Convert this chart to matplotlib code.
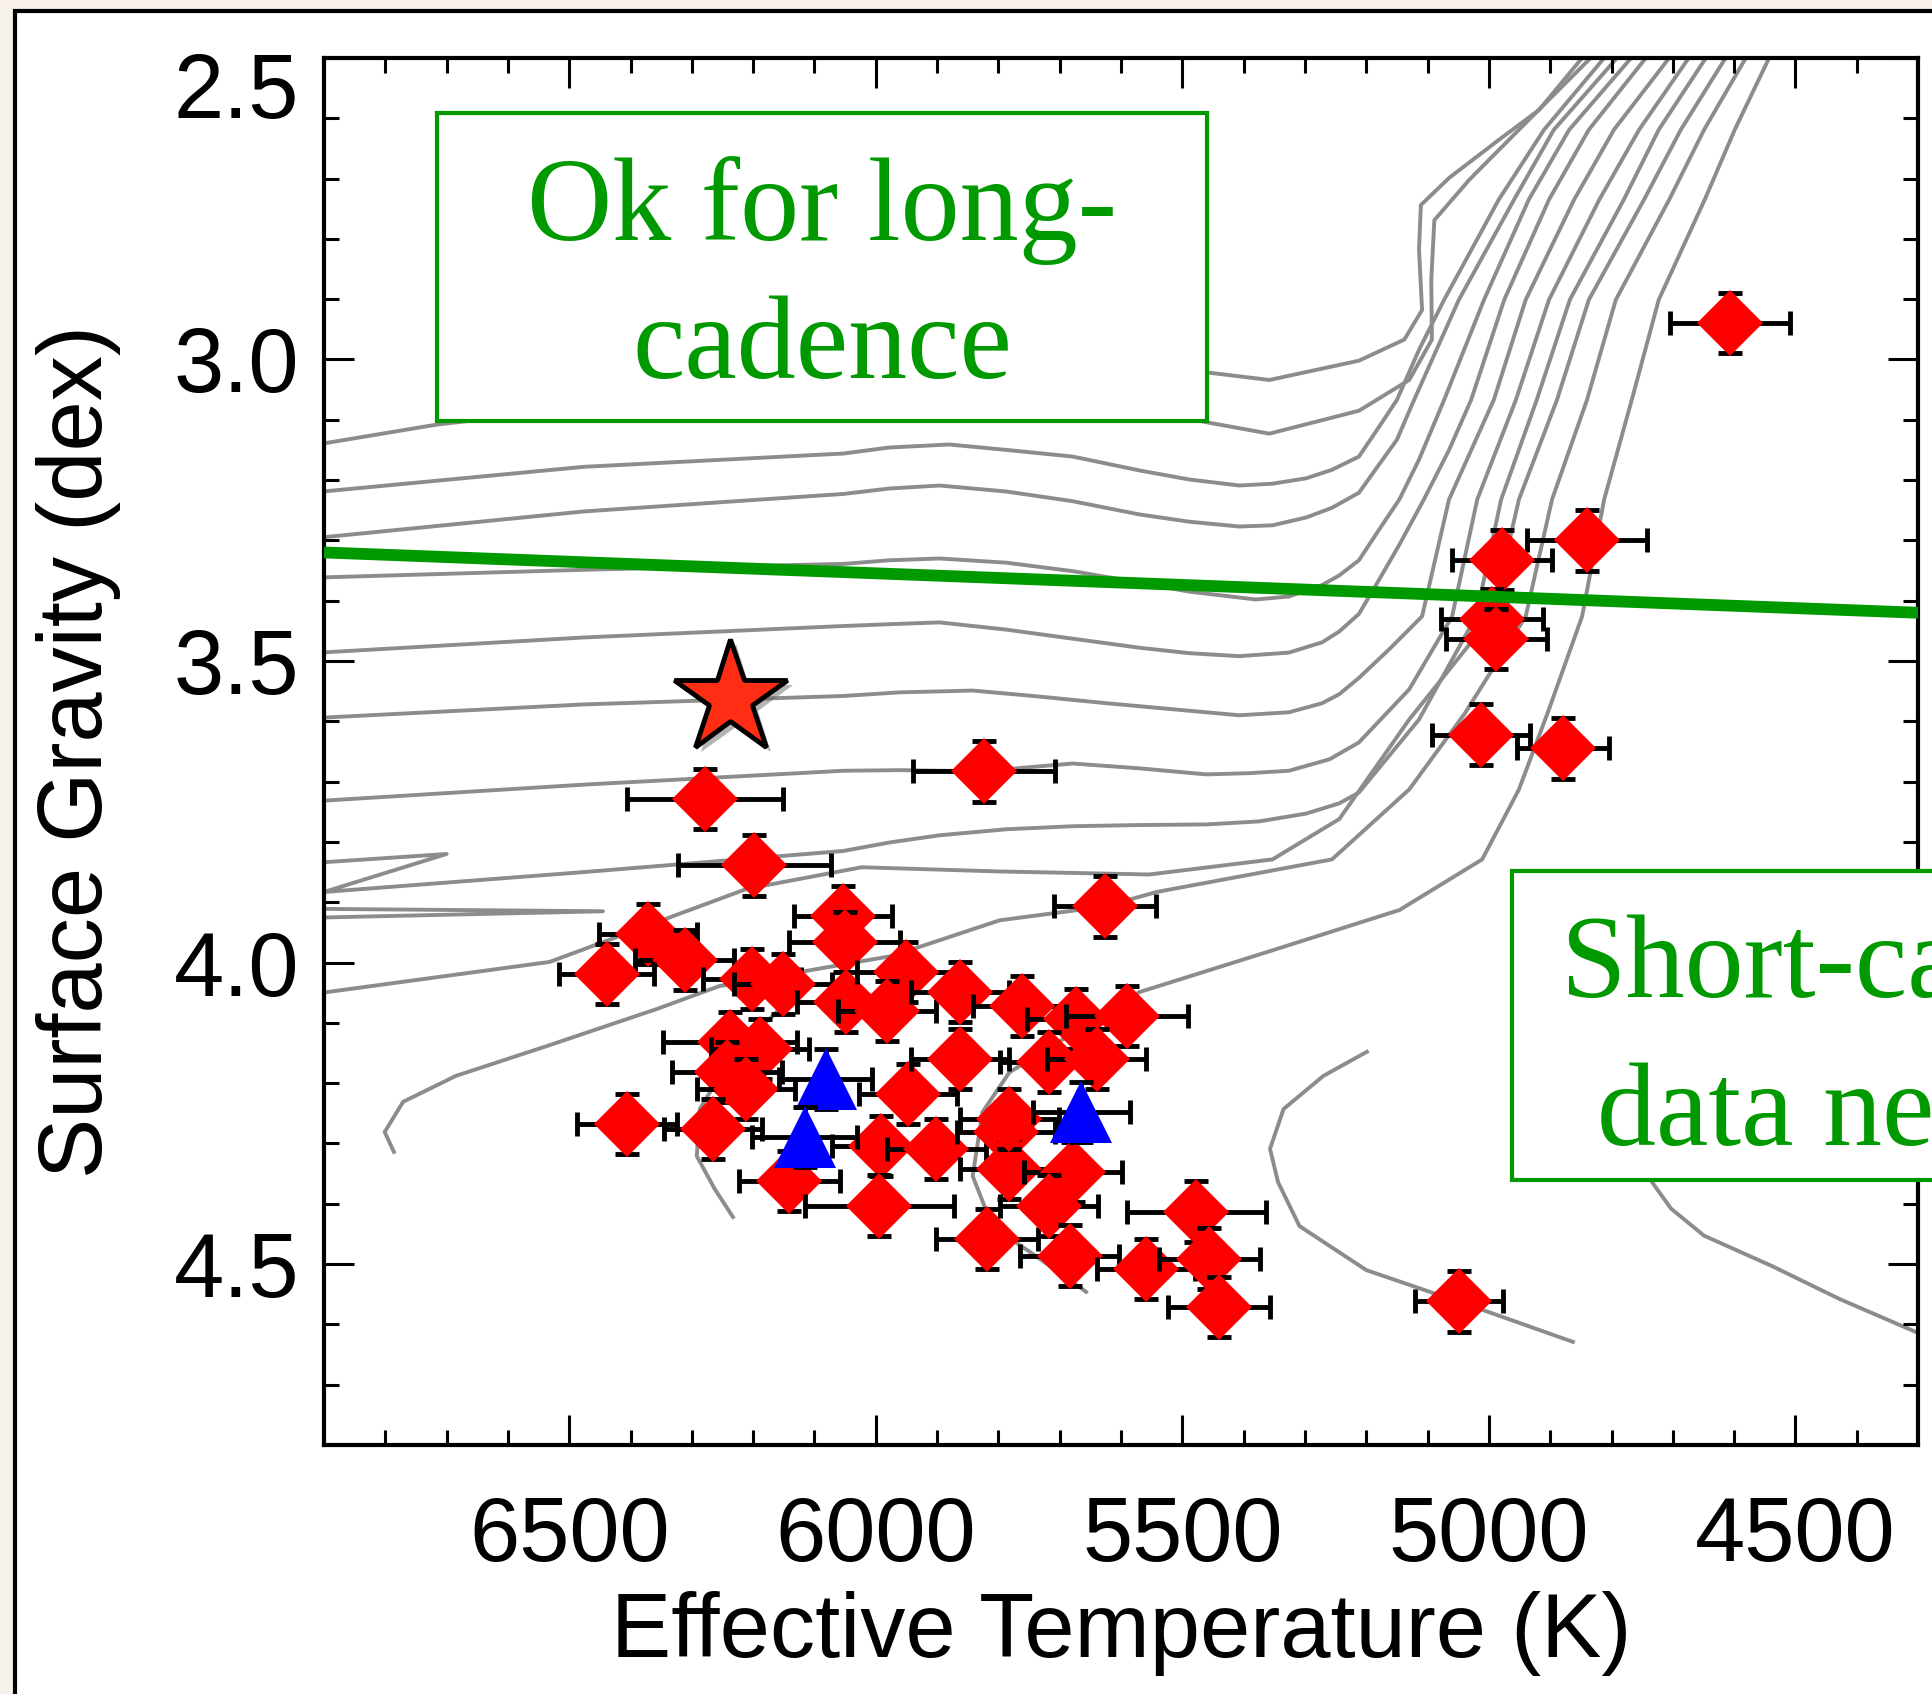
import matplotlib
matplotlib.use("Agg")
import matplotlib.pyplot as plt
import matplotlib.patheffects as pe
import matplotlib.transforms as mtransforms
from matplotlib.patches import Rectangle
import numpy as np

# ---- measured stars (red diamonds): Teff (K), error (K), log g (dex)
teff = [4607, 4840, 4979, 4995, 4988, 5013, 4879, 6279, 5823, 6198,
        5626, 6054, 6051, 6372, 6312, 6439, 6202, 6152, 6048, 5950,
        5981, 5863, 5761, 5673, 5590, 6238, 6189, 6243, 6211, 6266,
        6406, 5948, 5863, 5717, 5640, 5991, 5901, 5787, 5782, 5679,
        6141, 5994, 5819, 5717, 5684, 5559, 5477, 5456, 5440, 5049, 5782]
teff_err = [98, 98, 82, 83, 82, 80, 75, 127, 116, 125,
            83, 80, 91, 80, 80, 77, 80, 80, 80, 80,
            80, 80, 80, 80, 100, 109, 80, 90, 80, 80,
            81, 80, 80, 80, 80, 80, 80, 80, 80, 80,
            82, 122, 83, 80, 80, 80, 114, 82, 83, 72, 80]
logg = [2.939, 3.300, 3.332, 3.431, 3.464, 3.622, 3.645, 3.729, 3.683, 3.839,
        3.907, 3.923, 3.966, 3.953, 3.996, 4.019, 4.027, 4.036, 4.066, 4.016,
        4.080, 4.049, 4.072, 4.094, 4.089, 4.132, 4.143, 4.181, 4.210, 4.276,
        4.268, 4.218, 4.160, 4.165, 4.160, 4.304, 4.309, 4.281, 4.342, 4.347,
        4.362, 4.403, 4.458, 4.403, 4.486, 4.508, 4.413, 4.491, 4.571, 4.562, 4.259]
logg_err = 0.05

# blue triangles
tri_teff = [6082, 6116, 5665]
tri_teff_err = [76, 86, 79]
tri_logg = [4.193, 4.289, 4.248]

# highlighted target (star symbol)
star_teff = 6237
star_logg = 3.562

# green long/short cadence boundary
cut_teff = [6900, 4300]
cut_logg = [3.320, 3.420]

# ---- evolutionary tracks (grey)
trk_a_teff = [6613, 6287, 5798, 5456, 5358, 5212, 5138, 5109, 5114, 5111, 5065, 4984, 4918, 4848]
trk_a_logg = [2.967, 3.000, 2.984, 3.022, 3.034, 3.002, 2.967, 2.918, 2.818, 2.744, 2.699, 2.636, 2.586, 2.500]

trk_b_teff = [6923, 6716, 6287, 5880, 5635, 5456, 5358, 5212, 5130, 5093, 5094, 5089, 5032, 4951, 4834]
trk_b_logg = [3.143, 3.108, 3.058, 3.042, 3.067, 3.105, 3.123, 3.085, 3.034, 2.967, 2.868, 2.769, 2.702, 2.619, 2.500]

trk_c_teff = [6923, 6476, 6053, 5978, 5880, 5787, 5679, 5570, 5489, 5407, 5353, 5298, 5256, 5212,
              5182, 5150, 5114, 5073, 4984, 4910, 4812]
trk_c_logg = [3.221, 3.178, 3.156, 3.146, 3.141, 3.150, 3.161, 3.184, 3.199, 3.209, 3.206, 3.197, 3.183, 3.161,
              3.116, 3.067, 2.984, 2.901, 2.735, 2.619, 2.500]

trk_d_teff = [6923, 6476, 6053, 5978, 5896, 5787, 5679, 5570, 5489, 5407, 5353, 5298, 5256, 5212,
              5179, 5150, 5122, 5049, 4959, 4894, 4791]
trk_d_logg = [3.297, 3.252, 3.223, 3.214, 3.209, 3.219, 3.235, 3.257, 3.269, 3.277, 3.275, 3.262, 3.246, 3.221,
              3.174, 3.133, 3.067, 2.901, 2.735, 2.619, 2.500]

trk_e_teff = [6923, 6450, 6053, 5978, 5896, 5787, 5679, 5570, 5489, 5380, 5326, 5272, 5244, 5212,
              5179, 5146, 5114, 5073, 5008, 4935, 4869, 4768]
trk_e_logg = [3.362, 3.348, 3.339, 3.333, 3.330, 3.337, 3.351, 3.370, 3.385, 3.398, 3.393, 3.374, 3.358, 3.333,
              3.282, 3.232, 3.166, 3.067, 2.901, 2.735, 2.619, 2.500]

trk_f_teff = [6923, 6476, 6053, 5978, 5896, 5787, 5679, 5570, 5489, 5407, 5326, 5272, 5244, 5212,
              5179, 5146, 5106, 5065, 5029, 4975, 4902, 4837, 4744]
trk_f_logg = [3.487, 3.461, 3.442, 3.439, 3.436, 3.448, 3.463, 3.478, 3.487, 3.492, 3.486, 3.469, 3.451, 3.422,
              3.365, 3.307, 3.232, 3.150, 3.067, 2.901, 2.735, 2.619, 2.500]

trk_g_teff = [6923, 6476, 6053, 5961, 5842, 5733, 5624, 5516, 5407, 5326, 5272, 5244, 5212,
              5163, 5109, 5065, 4992, 4940, 4861, 4796, 4706]
trk_g_logg = [3.595, 3.572, 3.558, 3.552, 3.549, 3.559, 3.570, 3.580, 3.590, 3.585, 3.570, 3.555, 3.528,
              3.481, 3.426, 3.232, 3.067, 2.901, 2.735, 2.619, 2.500]

trk_h_teff = [6923, 6476, 6053, 5961, 5823, 5749, 5679, 5570, 5461, 5391, 5326, 5260, 5212,
              5130, 5060, 5019, 4956, 4902, 4820, 4755, 4674]
trk_h_logg = [3.733, 3.705, 3.682, 3.681, 3.683, 3.676, 3.670, 3.678, 3.688, 3.686, 3.682, 3.663, 3.635,
              3.547, 3.426, 3.232, 3.067, 2.901, 2.735, 2.619, 2.500]

trk_i_teff = [7021, 6700, 6900, 6476, 6053, 5978, 5896, 5787, 5679, 5570, 5461, 5375, 5298, 5244, 5212,
              5114, 5021, 4980, 4922, 4868, 4780, 4723, 4646]
trk_i_logg = [3.842, 3.820, 3.883, 3.850, 3.815, 3.801, 3.789, 3.779, 3.774, 3.772, 3.771, 3.766, 3.753, 3.736, 3.718,
              3.597, 3.426, 3.232, 3.067, 2.901, 2.735, 2.619, 2.500]

trk_j_teff = [7021, 6445, 7021, 7021, 6895, 6532, 6211, 6023, 5798, 5554, 5353, 5244, 5130, 4995,
              4951, 4889, 4837, 4747, 4687, 4614]
trk_j_logg = [3.910, 3.915, 3.928, 4.061, 4.049, 3.999, 3.878, 3.842, 3.849, 3.854, 3.829, 3.762, 3.597, 3.426,
              3.232, 3.067, 2.901, 2.735, 2.619, 2.500]

trk_m_teff = [6786, 6801, 6771, 6685, 6538, 6357, 6255, 5973, 5798, 5626, 5542, 5256, 5130, 5040,
              4940, 4897, 4840, 4793, 4706, 4649, 4581]
trk_m_logg = [4.314, 4.281, 4.231, 4.188, 4.139, 4.077, 4.039, 3.989, 3.930, 3.907, 3.883, 3.829, 3.713, 3.588,
              3.426, 3.232, 3.067, 2.901, 2.735, 2.619, 2.500]

trk_n_teff = [6233, 6263, 6292, 6287, 6238, 6157]
trk_n_logg = [4.422, 4.375, 4.321, 4.243, 4.160, 4.077]

trk_k_teff = [5657, 5733, 5810, 5842, 5826, 5782, 5570, 5363, 5146, 5011, 4951, 4902, 4848, 4812, 4767, 4723, 4648, 4599, 4543]
trk_k_logg = [4.546, 4.491, 4.437, 4.354, 4.248, 4.182, 4.049, 3.983, 3.913, 3.829, 3.713, 3.580, 3.426, 3.232, 3.067, 2.901, 2.735, 2.619, 2.500]

trk_t1_teff = [5199, 5270, 5335, 5357, 5344, 5309, 5200, 5016, 4863]
trk_t1_logg = [4.148, 4.188, 4.243, 4.309, 4.364, 4.437, 4.510, 4.574, 4.629]

trk_t2_teff = [4657, 4723, 4747, 4734, 4703, 4649, 4539, 4428, 4305, 4234]
trk_t2_logg = [4.061, 4.193, 4.293, 4.364, 4.408, 4.453, 4.503, 4.558, 4.612, 4.644]

tracks = [(trk_a_teff, trk_a_logg), (trk_b_teff, trk_b_logg), (trk_c_teff, trk_c_logg),
          (trk_d_teff, trk_d_logg), (trk_e_teff, trk_e_logg), (trk_f_teff, trk_f_logg),
          (trk_g_teff, trk_g_logg), (trk_h_teff, trk_h_logg), (trk_i_teff, trk_i_logg),
          (trk_j_teff, trk_j_logg), (trk_m_teff, trk_m_logg), (trk_n_teff, trk_n_logg),
          (trk_k_teff, trk_k_logg), (trk_t1_teff, trk_t1_logg), (trk_t2_teff, trk_t2_logg)]

x_major = [6500, 6000, 5500, 5000, 4500]
y_major = [2.5, 3.0, 3.5, 4.0, 4.5]

sans = ['Liberation Sans', 'DejaVu Sans']
serif = ['Liberation Serif', 'DejaVu Serif']
green = '#009a00'

fig = plt.figure(figsize=(19.32, 16.94), dpi=100, facecolor='#f7f1e9')
# white slide frame with a black border, running off the right/bottom edge
fig.add_artist(Rectangle((15 / 1932, -0.1), 1.2, 1 - 11 / 1694 + 0.1,
                         transform=fig.transFigure, facecolor='white',
                         edgecolor='black', lw=3, zorder=-1))

ax = fig.add_axes([0.1677, 0.1470, 0.8251, 0.8188])
ax.set_facecolor('white')

for tx, ty in tracks:
    ax.plot(tx, ty, color='#8c8c8c', lw=2.8, zorder=1, solid_joinstyle='round')

# red diamonds, each with its error bar drawn just before it
for i in range(len(teff)):
    z = 2 + i * 0.01
    ax.errorbar(teff[i], logg[i], xerr=teff_err[i], yerr=logg_err, fmt='none',
                ecolor='black', elinewidth=3.5, capsize=8.5, capthick=3.5, zorder=z)
    ax.plot(teff[i], logg[i], 'D', color='#ff0000', ms=33.5, mew=0, zorder=z + 0.005)

for i in range(len(tri_teff)):
    z = 3 + i * 0.01
    ax.errorbar(tri_teff[i], tri_logg[i], xerr=tri_teff_err[i], yerr=logg_err, fmt='none',
                ecolor='black', elinewidth=3.5, capsize=8.5, capthick=3.5, zorder=z)
    ax.plot(tri_teff[i], tri_logg[i], '^', color='#0000ff', ms=45, mew=0, zorder=z + 0.005)

ax.plot(cut_teff, cut_logg, color=green, lw=8.5, solid_capstyle='butt', zorder=4)

ax.plot(star_teff, star_logg, marker='*', ms=86, color='#ff2d14', mec='black', mew=3.5,
        zorder=6, path_effects=[pe.SimplePatchShadow(offset=(4, -4), shadow_rgbFace='0.35', alpha=0.45),
                                pe.Normal()])

ax.set_xlim(6900, 4300)
ax.set_ylim(4.8, 2.5)
ax.set_xticks(x_major)
ax.set_xticks(np.arange(4400, 6900, 100), minor=True)
ax.set_yticks(y_major)
ax.set_yticks(np.arange(2.6, 4.8, 0.1), minor=True)
ax.set_xticklabels([str(v) for v in x_major], family=sans, fontsize=65)
ax.set_yticklabels(['%.1f' % v for v in y_major], family=sans, fontsize=65)
ax.tick_params(which='both', direction='in', top=True, right=True, width=2.2, color='black')
ax.tick_params(which='major', length=21.5)
ax.tick_params(which='minor', length=11)
ax.tick_params(axis='x', which='major', pad=36)
ax.tick_params(axis='y', which='major', pad=18)
for s in ax.spines.values():
    s.set_linewidth(3)

# the top y label sits just below the top edge, as in the original
top_lbl = ax.get_yticklabels()[0]
top_lbl.set_verticalalignment('top')
top_lbl.set_transform(top_lbl.get_transform() +
                      mtransforms.ScaledTranslation(0, 0.06, fig.dpi_scale_trans))

ax.set_xlabel('Effective Temperature (K)', family=sans, fontsize=65, labelpad=8)
ax.set_ylabel('Surface Gravity (dex)', family=sans, fontsize=65, labelpad=38)

# annotation boxes
ax.add_patch(Rectangle((0.0709, 0.7383), 0.4831, 0.2221, transform=ax.transAxes,
                       facecolor='white', edgecolor=green, lw=3, zorder=8))
ax.text(0.3124, 0.8688, 'Ok for long-', transform=ax.transAxes, ha='center', va='baseline',
        family=serif, fontsize=85, color=green, zorder=9)
ax.text(0.3124, 0.7693, 'cadence', transform=ax.transAxes, ha='center', va='baseline',
        family=serif, fontsize=85, color=green, zorder=9)

ax.add_patch(Rectangle((0.7453, 0.1911), 0.6, 0.2227, transform=ax.transAxes,
                       facecolor='white', edgecolor=green, lw=3, zorder=10, clip_on=False))
ax.text(0.7754, 0.3230, 'Short-cadence', transform=ax.transAxes, ha='left', va='baseline',
        family=serif, fontsize=85, color=green, zorder=11, clip_on=False)
ax.text(0.7986, 0.2163, 'data needed', transform=ax.transAxes, ha='left', va='baseline',
        family=serif, fontsize=85, color=green, zorder=11, clip_on=False)

fig.savefig('out.png', dpi=100, facecolor=fig.get_facecolor())
